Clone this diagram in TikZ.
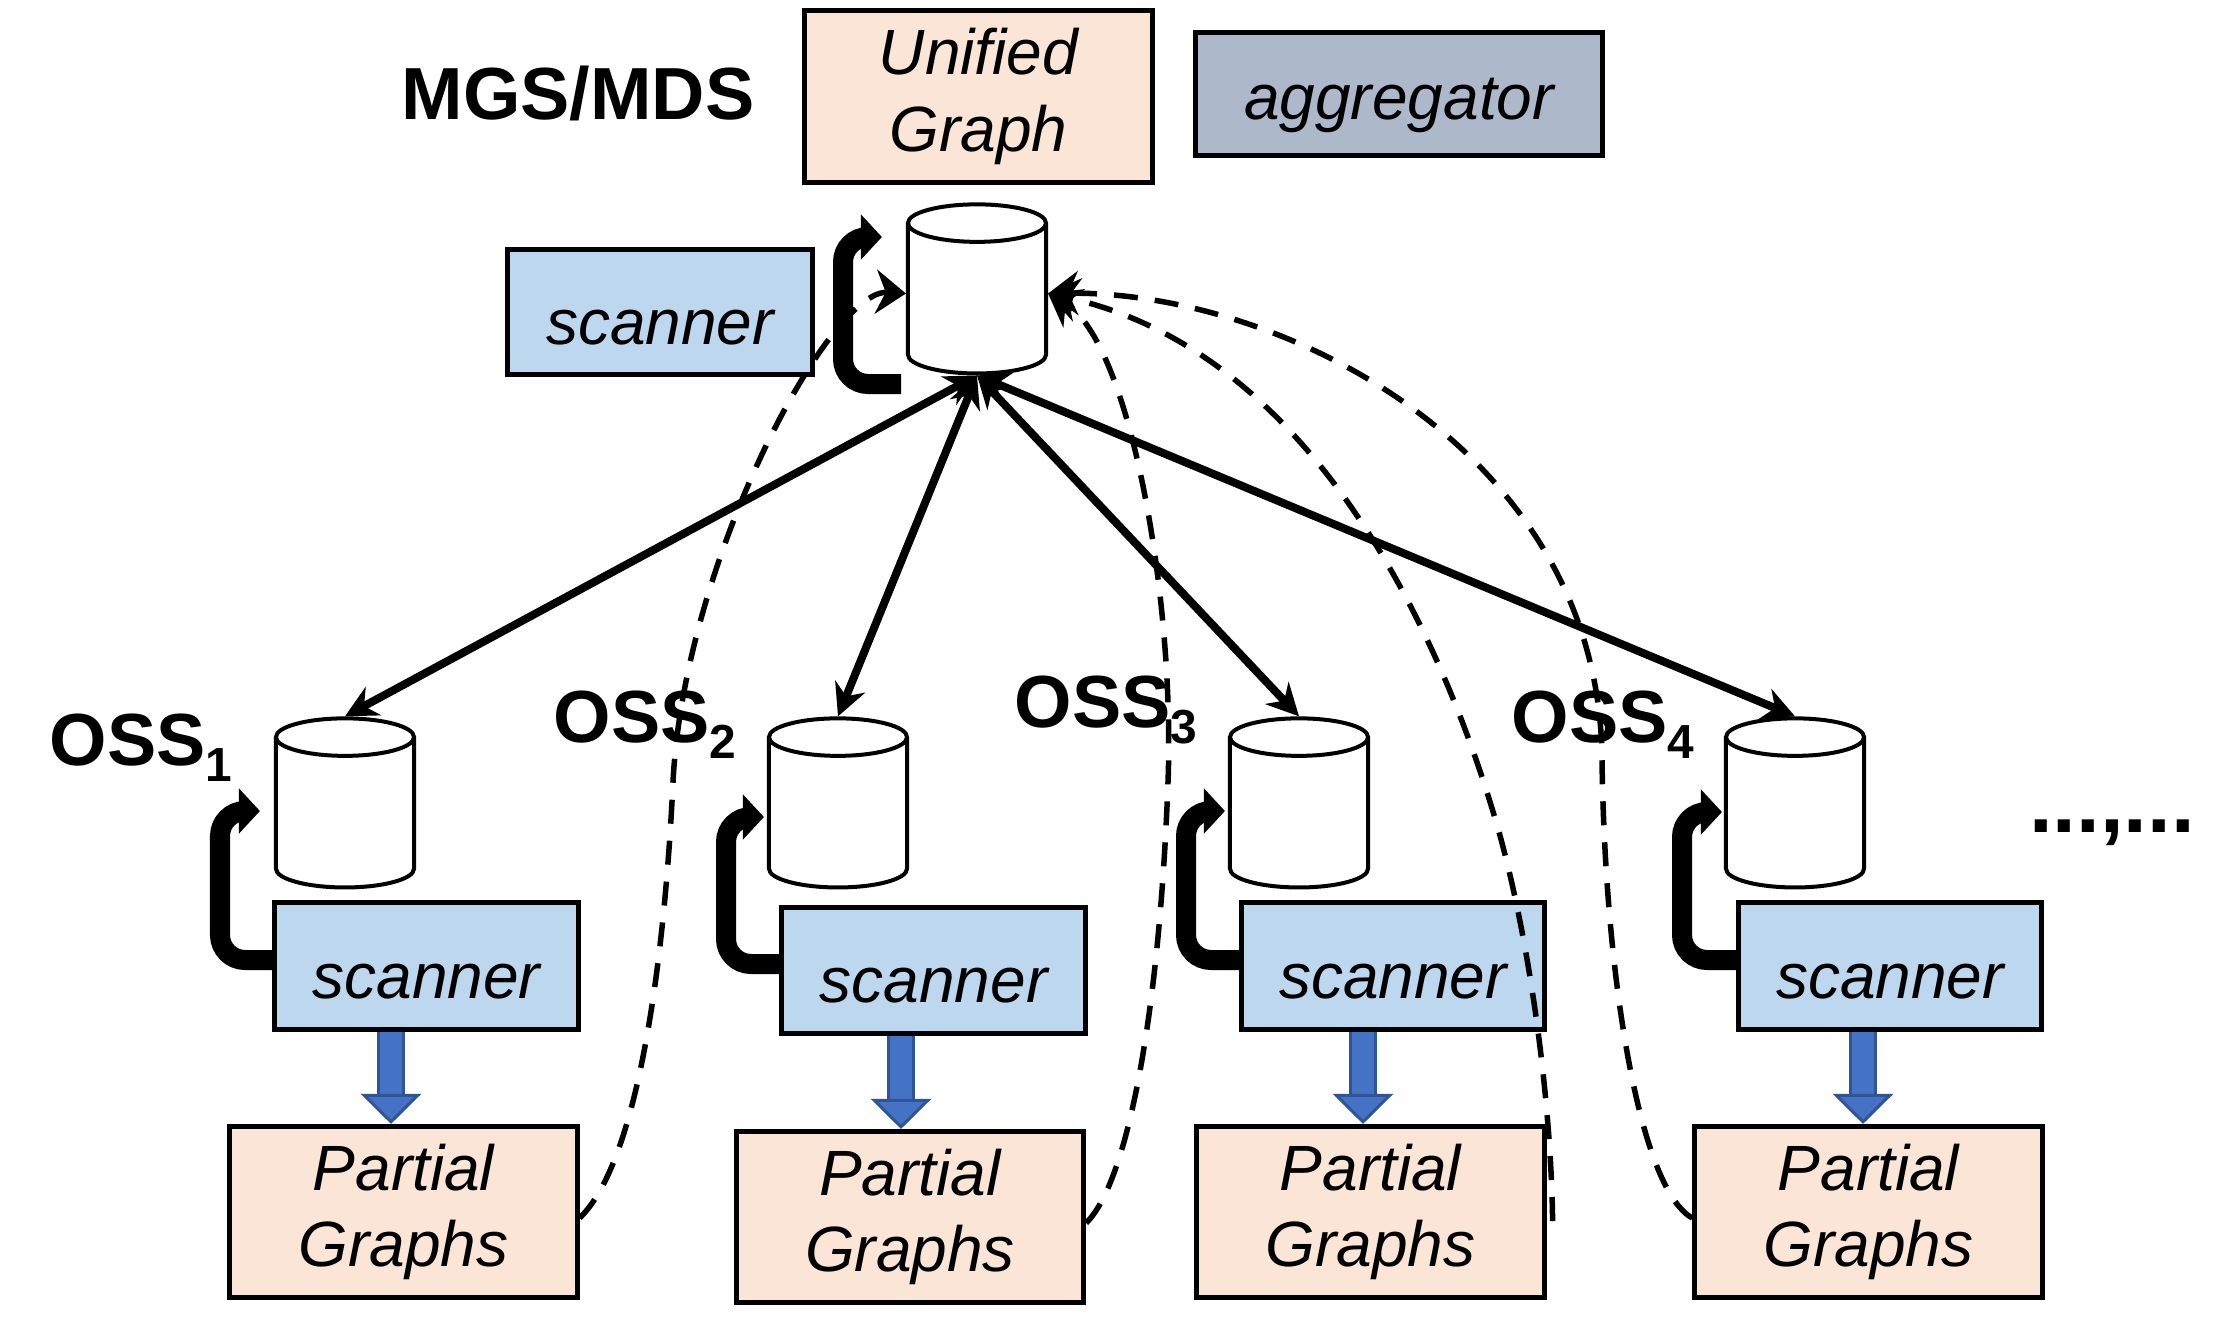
\documentclass[tikz,border=0pt]{standalone}
\usepackage{fontspec}
\setmainfont{Liberation Sans}
\usetikzlibrary{calc}
\usetikzlibrary{shapes.geometric}
\usetikzlibrary{arrows.meta}

\definecolor{peachfill}{HTML}{FBE5D6}
\definecolor{slatefill}{HTML}{ADB9CA}
\definecolor{scanfill}{HTML}{BDD7EE}
\definecolor{flowfill}{HTML}{4472C4}
\definecolor{flowedge}{HTML}{2F5597}

\newcommand{\osslabel}[1]{OSS\raisebox{-.22em}{\fontsize{13.6pt}{14pt}\selectfont #1}}

\begin{document}
\begin{tikzpicture}[%
  x=0.01cm, y=-0.01cm,
  box/.style={rectangle,
              draw,
              line width=0.05cm,
              inner sep=0pt,
              align=center,
              execute at begin node={\rule{0pt}{0.65cm}},
              font=\fontsize{18.2pt}{21.8pt}\selectfont\itshape
  },
  graphbox/.style={box, fill=peachfill, minimum width=3.47cm, minimum height=1.71cm},
  scanbox/.style={box, fill=scanfill, minimum width=3.03cm, minimum height=1.26cm},
  store/.style={cylinder,
                shape border rotate=90,
                aspect=1.6,
                draw,
                fill=white,
                line width=0.04cm,
                minimum width=1.38cm,
                minimum height=1.69cm
  },
  title/.style={inner sep=0pt, font=\fontsize{21pt}{24pt}\selectfont\bfseries},
  link/.style={{Stealth[length=0.32cm,width=0.32cm]}-{Stealth[length=0.32cm,width=0.32cm]}, line width=0.08cm},
  loopback/.style={-{Triangle[length=0.21cm,width=0.44cm]}, line width=0.2cm, rounded corners=0.25cm},
  report/.style={-{Stealth[length=0.3cm,width=0.44cm]}, line width=0.055cm, dash pattern=on 0.24cm off 0.17cm},
  flow/.style={-{Triangle[length=0.3cm,width=0.6cm,fill=flowfill,color=flowedge,line width=0.03cm]},
               draw=flowedge, line width=0.03cm, double=flowfill, double distance=0.22cm}
]
\useasboundingbox (0,0) rectangle (2236,1333);

\node [title] (mgs) at (578,93) {MGS/MDS};
\node [box, fill=peachfill, minimum width=3.48cm, minimum height=1.71cm] (unified) at (978.5,96.5) {Unified\\Graph};
\node [box, fill=slatefill, minimum width=4.07cm, minimum height=1.23cm] (aggregator) at (1399,94) {aggregator};

\node [store] (maincyl) at (977,304.5) {};

\node [store] (cyl1) at (345,818.5) {};
\node [store] (cyl2) at (838,818.5) {};
\node [store] (cyl3) at (1299,818.5) {};
\node [store] (cyl4) at (1795,818.5) {};

\node [scanbox] (scan1) at (426.5,966) {scanner};
\node [scanbox] (scan2) at (933.5,970.5) {scanner};
\node [scanbox] (scan3) at (1393,966) {scanner};
\node [scanbox] (scan4) at (1890,966) {scanner};

\node [graphbox] (part1) at (403.5,1212) {Partial\\Graphs};
\node [graphbox] (part2) at (910,1217) {Partial\\Graphs};
\node [graphbox] (part3) at (1370.5,1212) {Partial\\Graphs};
\node [graphbox] (part4) at (1868.5,1212) {Partial\\Graphs};

\node [title, anchor=base west] (oss1) at (49,765) {\osslabel{1}};
\node [title, anchor=base west] (oss2) at (553,742) {\osslabel{2}};
\node [title, anchor=base west] (oss3) at (1014,727) {\osslabel{3}};
\node [title, anchor=base west] (oss4) at (1511,742) {\osslabel{4}};
\node [title, anchor=base, font=\fontsize{24.2pt}{26pt}\selectfont\bfseries] (more) at (2112,832) {...,...};

% dashed reports from the partial graphs
\draw [report] ($(part1.east)+(0,6)$) .. controls (640,1160) and (665,950) .. (673,782)
   .. controls (684,560) and (830,289) .. ($(maincyl.west)+(0,-11)$);
\draw [report] ($(part2.east)+(0,6)$) .. controls (1130,1180) and (1160,1000) .. (1168,782)
   .. controls (1175,600) and (1130,340) .. ($(maincyl.east)+(0,-11)$);
\draw [report] ($(part3.east)+(6,9)$) .. controls (1551,1100) and (1530,940) .. (1497,825)
   .. controls (1440,630) and (1310,350) .. ($(maincyl.east)+(0,-11)$);
\draw [report] ($(part4.west)+(0,6)$) .. controls (1640,1190) and (1605,980) .. (1602,760)
   .. controls (1600,450) and (1280,290) .. ($(maincyl.east)+(0,-11)$);

\node [box, fill=scanfill, minimum width=3.05cm, minimum height=1.25cm] (mainscan) at (660,312) {scanner};

\draw [link] (maincyl.south) -- (cyl1.north);
\draw [link] (maincyl.south) -- (cyl2.north);
\draw [link] (maincyl.south) -- (cyl3.north);
\draw [link] (maincyl.south) -- (cyl4.north);

\coordinate (mainstart) at (901,384);
\draw [loopback, shorten >=0.24cm] (mainstart) -- (843,384) -- (843,237) -- ($(maincyl.west)+(0,-67.5)$);
\draw [loopback, shorten >=0.14cm] ($(scan1.west)+(0,-6)$) -- (220,960) -- (220,811) -- ($(cyl1.west)+(0,-7.5)$);
\draw [loopback, shorten >=0.03cm] ($(scan2.west)+(0,-6.5)$) -- (726,964) -- (726,817) -- ($(cyl2.west)+(0,-1.5)$);
\draw [loopback, shorten >=0.03cm] ($(scan3.west)+(0,-6)$) -- (1186,960) -- (1186,811) -- ($(cyl3.west)+(0,-7.5)$);
\draw [loopback, shorten >=0.02cm] ($(scan4.west)+(0,-6)$) -- (1682,960) -- (1682,812) -- ($(cyl4.west)+(0,-6.5)$);

\coordinate (flow1) at (391,1080);
\coordinate (flow2) at (901,1080);
\coordinate (flow3) at (1363,1080);
\coordinate (flow4) at (1863,1080);
\draw [flow] (scan1.south -| flow1) -- (part1.north -| flow1);
\draw [flow] (scan2.south -| flow2) -- (part2.north -| flow2);
\draw [flow] (scan3.south -| flow3) -- (part3.north -| flow3);
\draw [flow] (scan4.south -| flow4) -- (part4.north -| flow4);
\end{tikzpicture}
\end{document}
